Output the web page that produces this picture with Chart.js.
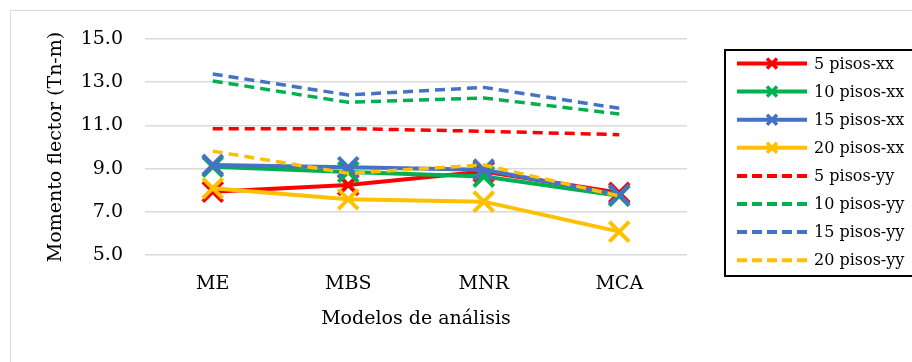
<!DOCTYPE html>
<html>
<head>
<meta charset="utf-8">
<script src="https://cdn.jsdelivr.net/npm/chart.js@4.4.1/dist/chart.umd.min.js"></script>
<style>
  html, body { margin: 0; padding: 0; background: #fff; }
  canvas { display: block; }
</style>
</head>
<body>
<canvas id="chart" width="912" height="362"></canvas>
<script>
const categorias = ['ME', 'MBS', 'MNR', 'MCA'];
const yTicks = [5, 7, 9, 11, 13, 15];

const pisos5xx  = [7.93, 8.24, 8.86, 7.88];
const pisos10xx = [9.09, 8.84, 8.63, 7.74];
const pisos15xx = [9.17, 9.06, 8.95, 7.79];
const pisos20xx = [8.09, 7.58, 7.47, 6.08];
const pisos5yy  = [10.85, 10.85, 10.73, 10.57];
const pisos10yy = [13.06, 12.07, 12.27, 11.53];
const pisos15yy = [13.38, 12.41, 12.76, 11.79];
const pisos20yy = [9.81, 8.78, 9.17, 7.73];

const ROJO = '#ff0000', VERDE = '#00b050', AZUL = '#4472c4', AMARILLO = '#ffc000';
const FUENTE = 'DejaVu Serif';

function serie(label, data, color, dashed){
  return {
    label, data,
    borderColor: color,
    backgroundColor: color,
    borderWidth: dashed ? 3.5 : 4,
    borderDash: dashed ? [10, 6] : [],
    pointStyle: 'crossRot',
    pointRadius: dashed ? 0 : 14,
    pointHoverRadius: dashed ? 0 : 14,
    pointBorderWidth: 4,
    pointBorderColor: color,
    tension: 0,
    fill: false
  };
}

const datasets = [
  serie('5 pisos-xx', pisos5xx, ROJO, false),
  serie('10 pisos-xx', pisos10xx, VERDE, false),
  serie('15 pisos-xx', pisos15xx, AZUL, false),
  serie('20 pisos-xx', pisos20xx, AMARILLO, false),
  serie('5 pisos-yy', pisos5yy, ROJO, true),
  serie('10 pisos-yy', pisos10yy, VERDE, true),
  serie('15 pisos-yy', pisos15yy, AZUL, true),
  serie('20 pisos-yy', pisos20yy, AMARILLO, true)
];
// later series on top, like the original
datasets.forEach((d, i) => d.order = datasets.length - i);

// frame + legend box drawn by hand
const marco = {
  id: 'marco',
  beforeDraw(chart){
    const c = chart.ctx;
    c.save();
    c.fillStyle = '#fff';
    c.fillRect(0, 0, chart.width, chart.height);
    c.strokeStyle = '#d9d9d9';
    c.lineWidth = 1;
    c.beginPath();
    c.moveTo(10.5, chart.height + 2);
    c.lineTo(10.5, 10.5);
    c.lineTo(chart.width + 2, 10.5);
    c.stroke();
    c.restore();
  },
  afterDraw(chart){
    const c = chart.ctx;
    const bx = 725, by = 50, bh = 226;
    c.save();
    c.strokeStyle = '#000';
    c.lineWidth = 2;
    c.strokeRect(bx, by, 220, bh);
    c.font = '16px "' + FUENTE + '"';
    c.textBaseline = 'middle';
    c.fillStyle = '#000';
    chart.data.datasets.forEach((d, i) => {
      const y = 63.5 + i * 28.1;
      c.strokeStyle = d.borderColor;
      c.lineWidth = 4;
      c.setLineDash(d.borderDash.length ? [10, 5] : []);
      c.beginPath();
      c.moveTo(737, y);
      c.lineTo(807, y);
      c.stroke();
      c.setLineDash([]);
      if (d.pointRadius > 0) {
        c.lineWidth = 3.5;
        c.beginPath();
        c.moveTo(767, y - 5); c.lineTo(777, y + 5);
        c.moveTo(777, y - 5); c.lineTo(767, y + 5);
        c.stroke();
      }
      c.fillText(d.label, 814, y + 1);
    });
    c.restore();
  }
};

new Chart(document.getElementById('chart'), {
  type: 'line',
  data: { labels: categorias, datasets },
  plugins: [marco],
  options: {
    responsive: false,
    animation: false,
    layout: { padding: { top: 39, right: 225, left: 0, bottom: 0 } },
    plugins: { legend: { display: false }, tooltip: { enabled: false } },
    scales: {
      x: {
        type: 'category',
        offset: true,
        grid: { display: false, drawTicks: false },
        border: { display: false },
        ticks: { color: '#000', padding: 18, font: { family: FUENTE, size: 19 } },
        title: {
          display: true, text: 'Modelos de análisis', color: '#000',
          padding: { top: 0, bottom: 32 },
          font: { family: FUENTE, size: 19 }
        },
        afterFit(s){ s.height = 107; }
      },
      y: {
        min: yTicks[0],
        max: yTicks[yTicks.length - 1],
        afterBuildTicks(s){ s.ticks = yTicks.map(v => ({ value: v })); },
        grid: { color: '#d9d9d9', lineWidth: 1.5, drawTicks: false },
        border: { display: false },
        ticks: {
          color: '#000', padding: 22,
          font: { family: FUENTE, size: 19 },
          callback: v => Number(v).toFixed(1)
        },
        title: {
          display: true, text: 'Momento flector (Tn-m)', color: '#000',
          padding: { top: 45, bottom: 0 },
          font: { family: FUENTE, size: 19 }
        },
        afterFit(s){ s.width = 145; }
      }
    }
  }
});
</script>
</body>
</html>
